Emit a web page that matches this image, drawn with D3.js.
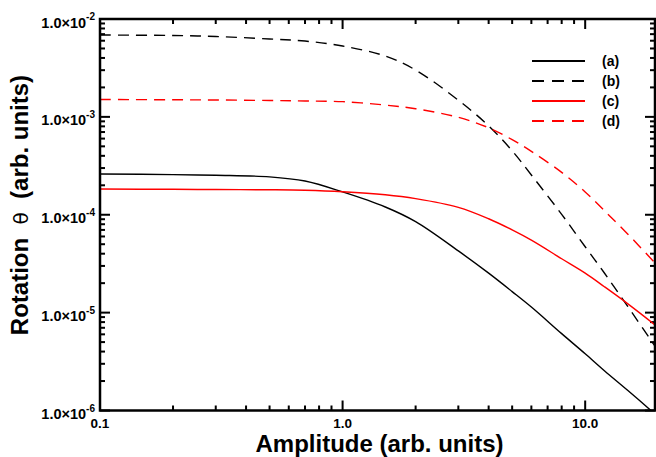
<!DOCTYPE html>
<html>
<head>
<meta charset="utf-8">
<script src="https://cdn.jsdelivr.net/npm/d3@7"></script>
<style>
  body { margin: 0; background: #fff; }
  svg { font-family: "Liberation Sans", Arial, sans-serif; }
</style>
</head>
<body>
<svg id="chart"></svg>
<script>
let amplitude = [0.1, 0.2, 0.3, 0.5, 0.7, 1, 1.5, 2, 3, 4, 5, 6, 8, 10, 12, 15, 19.4]

let seriesA = [2.61e-4, 2.57e-4, 2.53e-4, 2.44e-4, 2.21e-4, 1.71e-4, 1.20e-4, 8.5e-5, 4.27e-5,
               2.53e-5, 1.64e-5, 1.14e-5, 6.1e-6, 3.8e-6, 2.55e-6, 1.60e-6, 9.2e-7]
let seriesB = [6.86e-3, 6.78e-3, 6.63e-3, 6.25e-3, 5.95e-3, 5.30e-3, 4.18e-3, 3.01e-3, 1.48e-3,
               8.1e-4, 4.5e-4, 2.55e-4, 1.01e-4, 4.71e-5, 2.54e-5, 1.15e-5, 4.54e-6]
let seriesC = [1.83e-4, 1.82e-4, 1.81e-4, 1.80e-4, 1.78e-4, 1.72e-4, 1.60e-4, 1.46e-4, 1.19e-4,
               9.1e-5, 7.0e-5, 5.5e-5, 3.55e-5, 2.53e-5, 1.84e-5, 1.23e-5, 7.5e-6]
let seriesD = [1.506e-3, 1.495e-3, 1.488e-3, 1.47e-3, 1.454e-3, 1.43e-3, 1.32e-3, 1.21e-3, 9.9e-4,
               7.74e-4, 5.85e-4, 4.44e-4, 2.71e-4, 1.71e-4, 1.10e-4, 6.33e-5, 3.22e-5]

let seriesNames = ['(a)', '(b)', '(c)', '(d)']
let xMajorTicks = [0.1, 1, 10]
let xTickLabels = ['0.1', '1.0', '10.0']
let yMajorTicks = [1e-6, 1e-5, 1e-4, 1e-3, 1e-2]
let yExponents = ['-6', '-5', '-4', '-3', '-2']

let plotLeft = 100,
    plotRight = 655,
    plotTop = 19,
    plotBottom = 410.5

let $svg = d3.select('#chart')
    .attr('width', 656)
    .attr('height', 457)

let xScale = d3.scaleLog().domain([0.1, 19.4]).range([plotLeft, plotRight])
let yScale = d3.scaleLog().domain([1e-6, 1e-2]).range([plotBottom, plotTop])

// minor ticks: 2..9 in each decade
let xMinor = []
;[0.1, 1, 10].forEach(d => { for (let k = 2; k <= 9; k++) if (d * k <= 19.4) xMinor.push(d * k) })
let yMinor = []
;[1e-6, 1e-5, 1e-4, 1e-3].forEach(d => { for (let k = 2; k <= 9; k++) yMinor.push(d * k) })

let series = [
    {name: seriesNames[0], values: seriesA, color: '#000', dash: null},
    {name: seriesNames[1], values: seriesB, color: '#000', dash: '11,7'},
    {name: seriesNames[2], values: seriesC, color: '#ff0000', dash: null},
    {name: seriesNames[3], values: seriesD, color: '#ff0000', dash: '11,7'}
]

let lineFunction = d3.line()
    .x(d => xScale(d[0]))
    .y(d => yScale(d[1]))
    .curve(d3.curveCatmullRom.alpha(0.5))

// ticks first, as small filled rects pointing inward
let $ticks = $svg.append('g').attr('fill', '#000')
function tickRects(xs, ys, len) {
    xs.forEach(v => {
        let x = xScale(v)
        $ticks.append('rect').attr('x', x - 1).attr('y', plotBottom - len).attr('width', 2).attr('height', len)
        $ticks.append('rect').attr('x', x - 1).attr('y', plotTop).attr('width', 2).attr('height', len)
    })
    ys.forEach(v => {
        let y = yScale(v)
        $ticks.append('rect').attr('x', plotLeft).attr('y', y - 1).attr('width', len).attr('height', 2)
        $ticks.append('rect').attr('x', plotRight - len).attr('y', y - 1).attr('width', len).attr('height', 2)
    })
}
tickRects(xMajorTicks, yMajorTicks, 10)
tickRects(xMinor, yMinor, 5)

// curves, kept inside the frame by clipping each path
let $curves = $svg.append('g')
series.forEach((s, si) => {
    $curves.append('clipPath').attr('id', 'clip' + si)
        .append('rect')
        .attr('x', plotLeft).attr('y', plotTop)
        .attr('width', plotRight - plotLeft).attr('height', plotBottom - plotTop)
    $curves.append('path')
        .attr('d', lineFunction(amplitude.map((a, i) => [a, s.values[i]])))
        .attr('clip-path', `url(#clip${si})`)
        .attr('fill', 'none')
        .attr('stroke', s.color)
        .attr('stroke-width', 1.4)
        .attr('stroke-dasharray', s.dash)
})

// frame
$svg.append('rect')
    .attr('x', plotLeft).attr('y', plotTop)
    .attr('width', plotRight - plotLeft).attr('height', plotBottom - plotTop)
    .attr('fill', 'none')
    .attr('stroke', '#000')
    .attr('stroke-width', 2.5)

// x tick labels
$svg.append('g').selectAll('text')
    .data(xMajorTicks)
    .enter().append('text')
    .attr('x', d => xScale(d))
    .attr('y', plotBottom + 17.5)
    .attr('text-anchor', 'middle')
    .attr('font-size', 13.5)
    .attr('font-weight', 'bold')
    .text((d, i) => xTickLabels[i])

// y tick labels: 1.0x10^n
let $yLabels = $svg.append('g').selectAll('text')
    .data(yMajorTicks)
    .enter().append('text')
    .attr('x', 95)
    .attr('y', d => yScale(d) + 8.5)
    .attr('text-anchor', 'end')
    .attr('font-size', 14.5)
    .attr('font-weight', 'bold')
$yLabels.append('tspan').text('1.0\u00d710')
$yLabels.append('tspan')
    .attr('dy', -7.5)
    .attr('font-size', 10)
    .text((d, i) => yExponents[i])

// axis titles
$svg.append('text')
    .attr('x', (plotLeft + plotRight) / 2 + 2)
    .attr('y', 451.5)
    .attr('text-anchor', 'middle')
    .attr('font-size', 24)
    .attr('font-weight', 'bold')
    .text('Amplitude (arb. units)')

let $yTitle = $svg.append('text')
    .attr('transform', 'translate(28,205) rotate(-90)')
    .attr('text-anchor', 'middle')
    .attr('font-size', 24)
    .attr('font-weight', 'bold')
    .attr('xml:space', 'preserve')
$yTitle.append('tspan').text('Rotation\u00a0\u00a0')
$yTitle.append('tspan').attr('font-weight', 'normal').attr('font-family', 'DejaVu Sans').attr('font-size', 20).text('\u03b8')
$yTitle.append('tspan').text('\u00a0\u00a0(arb. units)')

// legend
let $legend = $svg.append('g').selectAll('g')
    .data(series)
    .enter().append('g')
    .attr('transform', (d, i) => `translate(0,${61 + i * 20})`)
$legend.append('line')
    .attr('x1', 532).attr('x2', 585)
    .attr('stroke', d => d.color)
    .attr('stroke-width', 2)
    .attr('stroke-dasharray', d => d.dash ? '12,8' : null)
$legend.append('text')
    .attr('x', 602)
    .attr('dy', '0.35em')
    .attr('font-size', 14)
    .attr('font-weight', 'bold')
    .text(d => d.name)
</script>
</body>
</html>
